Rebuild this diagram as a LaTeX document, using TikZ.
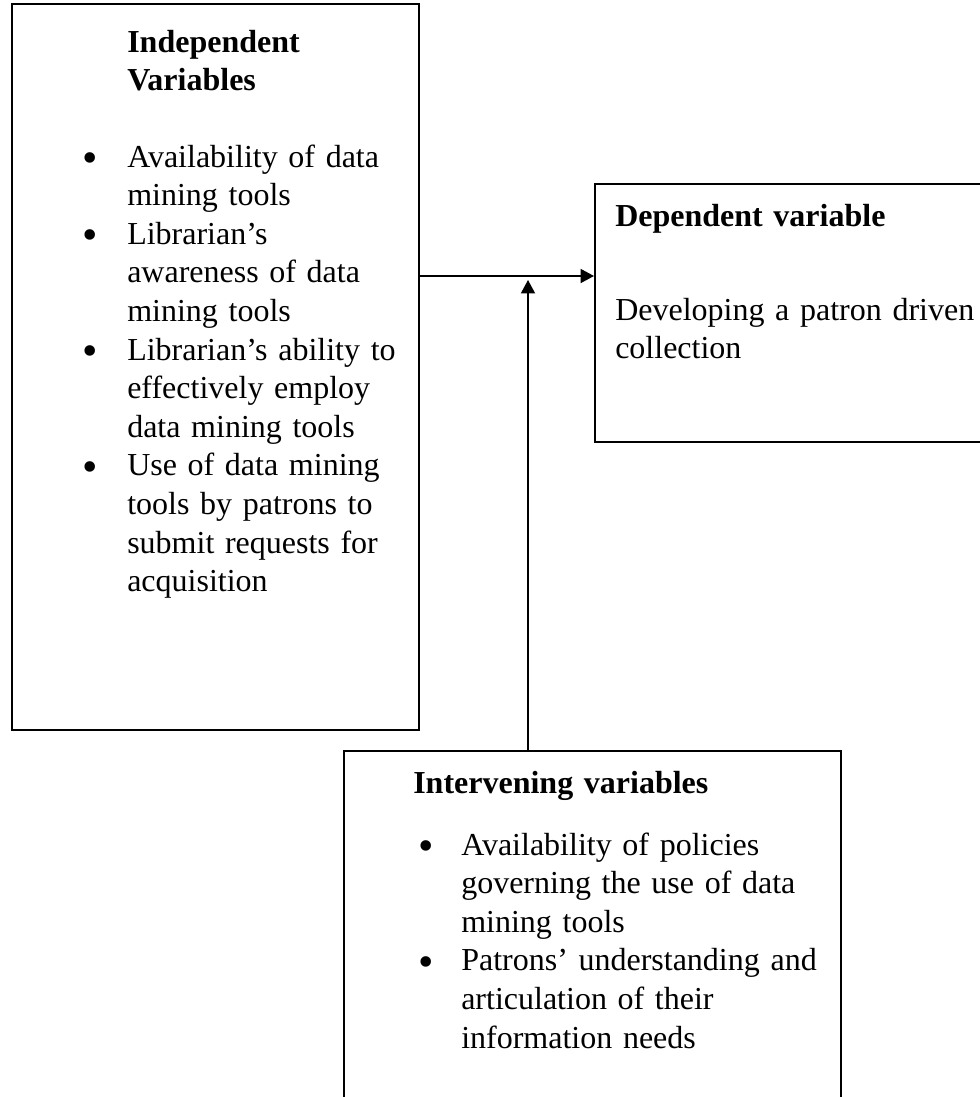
\documentclass[tikz,border=0pt]{standalone}
\usepackage{fontspec}
\setmainfont{Liberation Serif}
\usetikzlibrary{arrows.meta, positioning}

% bullet item with hanging indent
\newcommand{\bulletmark}{\raisebox{-4pt}{\fontsize{33}{0}\selectfont\textbullet}}
\newcommand{\varitem}[2][33.75pt]{\noindent\hangindent=#1\hangafter=1\makebox[#1][l]{\bulletmark}#2\par}

\begin{document}
\begin{tikzpicture}[
  x=0.75pt, y=-0.75pt,
  varbox/.style={rectangle, draw, line width=1.5pt, anchor=north west, inner sep=0pt},
  headtext/.style={anchor=base west, inner sep=0pt, font=\fontsize{24}{28.95}\selectfont\bfseries},
  bodytext/.style={anchor=base west, inner sep=0pt, font=\fontsize{24}{28.95}\selectfont},
  arr/.style={-{Triangle[length=10pt, width=10.5pt]}, line width=1.1pt},
]
  \useasboundingbox (0,0) rectangle (980,1097);
  \clip (0,0) rectangle (980,1097);

  % Boxes
  \node[varbox, minimum width=305.25pt, minimum height=544.5pt] (indep) at (11,3) {};
  \node[varbox, minimum width=304.5pt, minimum height=193.5pt] (dep) at (594,183) {};
  \node[varbox, minimum width=372.75pt, minimum height=270pt] (interv) at (343,750) {};

  % Independent variables
  \node[headtext, text width=200pt] (indephead) at (127,52) {Independent\newline Variables};
  \node[bodytext, text width=250pt] (indeplist) at (82,167) {%
    \varitem{Availability of data\newline mining tools}
    \varitem{Librarian’s\newline awareness of data\newline mining tools}
    \varitem{Librarian’s ability to\newline effectively employ\newline data mining tools}
    \varitem{Use of data mining\newline tools by patrons to\newline submit requests for\newline acquisition}};

  % Dependent variable
  \node[headtext, text width=270pt] (dephead) at (615,226) {Dependent variable};
  \node[bodytext, text width=277pt] (depbody) at (615,320) {Developing a patron driven\newline collection};

  % Intervening variables
  \node[headtext, text width=300pt] (intervhead) at (413,793) {Intervening variables};
  \node[bodytext, text width=313pt] (intervlist) at (418,855) {%
    \varitem[32.25pt]{Availability of policies\newline governing the use of data\newline mining tools}
    \varitem[32.25pt]{Patrons’ understanding and\newline articulation of their\newline information needs}};

  % Connectors
  \coordinate (jn) at (528,276);
  \coordinate (tip) at (528,280);
  \draw[arr] (indep.east |- jn) -- (dep.west |- jn);
  \draw[arr] (interv.north -| jn) -- (tip);
\end{tikzpicture}
\end{document}
